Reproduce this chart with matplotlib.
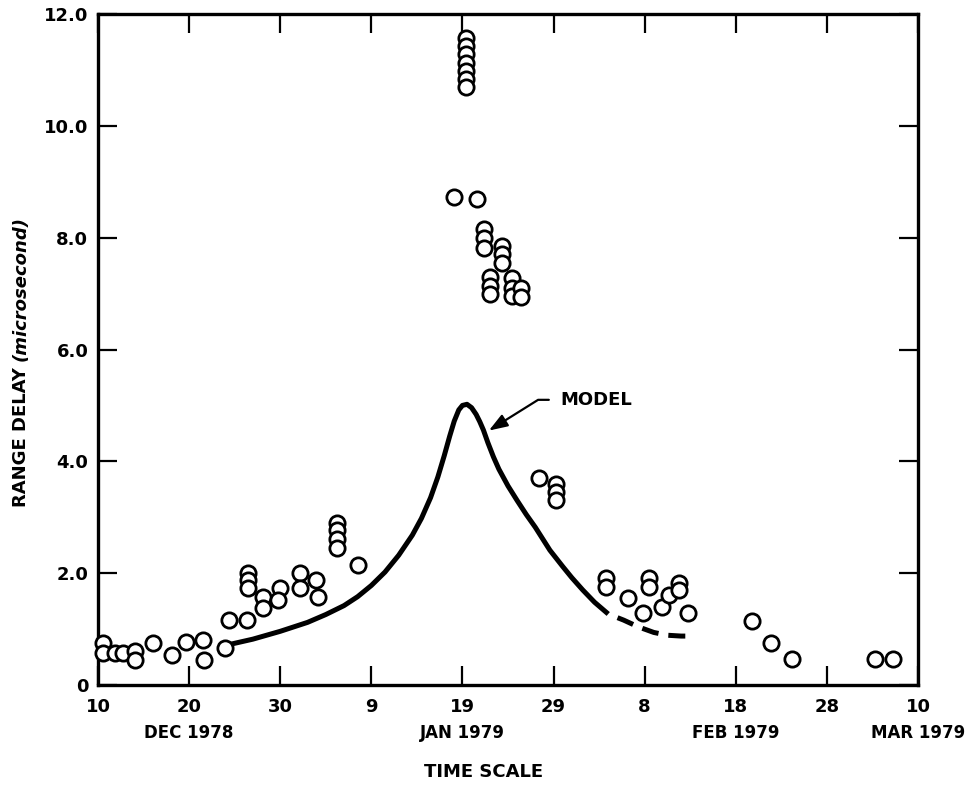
import matplotlib
matplotlib.use("Agg")
import matplotlib.pyplot as plt

plt.rcParams["font.family"] = ["DejaVu Sans"]
plt.rcParams["font.weight"] = "bold"

# days counted from 10 Dec 1978
tick_days = [0, 10, 20, 30, 40, 50, 60, 70, 80, 90]
tick_labels = ["10", "20", "30", "9", "19", "29", "8", "18", "28", "10"]
month_days = [10, 40, 70, 90]
month_labels = ["DEC 1978", "JAN 1979", "FEB 1979", "MAR 1979"]
y_ticks = [0, 2, 4, 6, 8, 10, 12]
y_labels = ["0", "2.0", "4.0", "6.0", "8.0", "10.0", "12.0"]

# measured range delay (microsecond)
obs_day = [0.55, 0.55, 1.9, 2.7, 4.1, 4.1, 6.0, 8.1, 9.7, 11.5, 11.6, 13.9,
           14.4, 16.4, 16.5, 16.5, 16.5, 18.1, 18.1, 20.0, 19.8, 22.2, 22.2,
           23.9, 24.1, 26.2, 26.2, 26.2, 26.2, 28.5,
           40.4, 40.4, 40.4, 40.4, 40.4, 40.4, 40.4, 39.1, 41.6,
           42.4, 42.4, 42.4, 44.3, 44.3, 44.3, 43.0, 43.0, 43.0,
           45.4, 45.4, 45.4, 46.4, 46.4,
           48.4, 50.3, 50.3, 50.3,
           55.8, 55.8, 58.2, 59.8, 60.5, 60.5, 61.9, 62.7, 63.8, 63.8, 64.8,
           71.8, 73.9, 76.2, 85.3, 87.3]
obs_val = [0.75, 0.57, 0.57, 0.57, 0.60, 0.45, 0.75, 0.54, 0.77, 0.80, 0.45, 0.66,
           1.16, 1.16, 2.00, 1.87, 1.73, 1.57, 1.37, 1.73, 1.52, 2.00, 1.73,
           1.87, 1.57, 2.90, 2.77, 2.62, 2.45, 2.14,
           11.57, 11.43, 11.29, 11.13, 10.98, 10.84, 10.70, 8.72, 8.70,
           8.16, 8.00, 7.82, 7.86, 7.71, 7.54, 7.30, 7.14, 7.00,
           7.27, 7.10, 6.96, 7.10, 6.94,
           3.70, 3.60, 3.45, 3.30,
           1.91, 1.75, 1.55, 1.29, 1.91, 1.75, 1.39, 1.61, 1.82, 1.70, 1.29,
           1.14, 0.75, 0.46, 0.46, 0.46]

# model curve
model_day = [14.3, 17, 20, 23, 25, 27, 28.5, 30, 31.5, 33, 34.5, 35.5, 36.5,
             37.3, 38.0, 38.6, 39.1, 39.6, 40.0, 40.5, 41.0, 41.5, 41.9, 42.3,
             42.8, 43.4, 44.0, 45.0, 46.0, 47.0, 48.0, 49.6, 51.0, 52.0, 53.2,
             54.5, 56.0]
model_val = [0.72, 0.82, 0.96, 1.12, 1.26, 1.42, 1.58, 1.78, 2.02, 2.32, 2.68,
             2.98, 3.35, 3.72, 4.10, 4.45, 4.72, 4.92, 5.00, 5.02, 4.96, 4.84,
             4.71, 4.56, 4.33, 4.08, 3.86, 3.56, 3.30, 3.05, 2.82, 2.41, 2.12,
             1.92, 1.70, 1.48, 1.27]
model_ext_day = [56.0, 57.7, 59.3, 61.0, 62.5, 64.0, 65.3]
model_ext_val = [1.27, 1.16, 1.04, 0.94, 0.89, 0.875, 0.875]

fig = plt.figure(figsize=(9.73, 7.87), dpi=100)
ax = fig.add_axes([0.1007, 0.1296, 0.8428, 0.8526])

ax.plot(model_day, model_val, color="black", lw=3.6, solid_capstyle="butt",
        solid_joinstyle="round", zorder=2)
ax.plot(model_ext_day, model_ext_val, color="black", lw=3.6,
        linestyle=(3.4, (3.4, 2.0)), dash_capstyle="butt", zorder=2)
ax.plot(obs_day, obs_val, linestyle="none", marker="o", ms=11, mew=2.0,
        mfc="white", mec="black", zorder=3, clip_on=False)

ax.annotate("MODEL", xy=(42.9, 4.55), xytext=(50.7, 5.1), textcoords="data",
            fontsize=13, fontweight="bold", va="center", ha="left",
            arrowprops=dict(arrowstyle="-|>,head_length=0.7,head_width=0.25",
                            connectionstyle="angle,angleA=0,angleB=32,rad=0",
                            color="black", lw=1.6, shrinkA=6, shrinkB=0,
                            mutation_scale=16))

ax.set_xlim(0, 90)
ax.set_ylim(0, 12)
ax.set_xticks(tick_days)
ax.set_xticklabels(tick_labels)
ax.set_yticks(y_ticks)
ax.set_yticklabels(y_labels)
ax.tick_params(direction="in", length=14, width=1.6, top=True, right=True,
               labelsize=13)
ax.tick_params(axis="x", pad=9)
ax.tick_params(axis="y", pad=7)
for lab in ax.get_xticklabels() + ax.get_yticklabels():
    lab.set_fontweight("bold")
for sp in ax.spines.values():
    sp.set_linewidth(2.4)

for d, m in zip(month_days, month_labels):
    ax.text(d, -0.0715, m, transform=ax.get_xaxis_transform(), ha="center",
            va="center", fontsize=12, fontweight="bold")

fig.text(0.497, 0.019, "TIME SCALE", ha="center", va="center",
         fontsize=13, fontweight="bold")

# y label: upright caps then italic unit
fig.canvas.draw()
t1 = fig.text(0.0216, 0.356, "RANGE DELAY", rotation=90, ha="center",
              va="bottom", fontsize=13, fontweight="bold")
bb = t1.get_window_extent(fig.canvas.get_renderer())
fig.text(0.0216, (bb.y1 + 6) / fig.bbox.height, "(microsecond)", rotation=90,
         ha="center", va="bottom", fontsize=13, fontweight="bold",
         fontstyle="italic")

fig.savefig("out.png", dpi=100)
